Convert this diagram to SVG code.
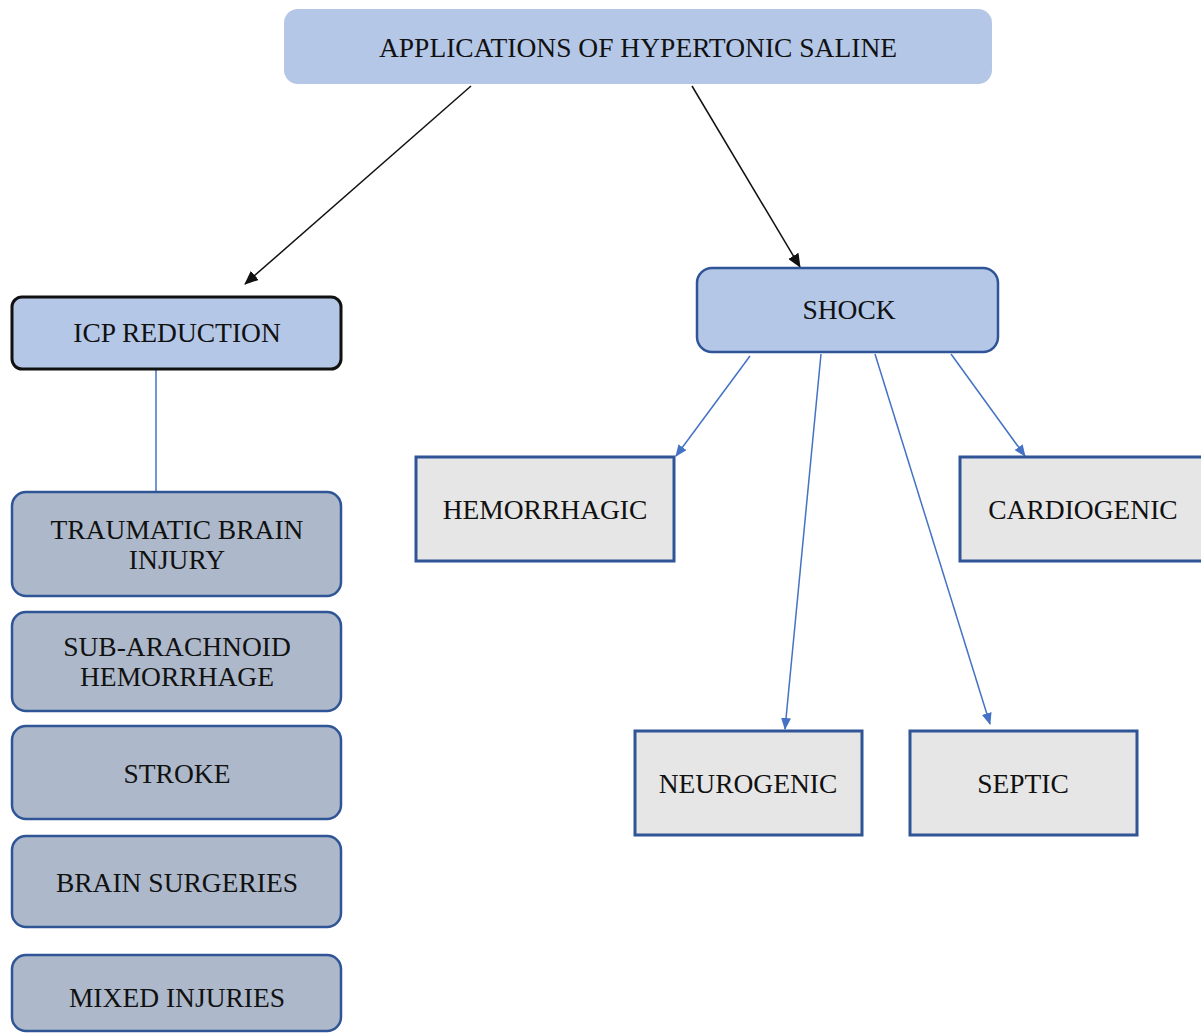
<svg xmlns="http://www.w3.org/2000/svg" width="1201" height="1033" viewBox="0 0 1201 1033">
<style>
text{font-family:"Liberation Serif","Times New Roman",serif;font-size:27.5px;fill:#111;text-anchor:middle;dominant-baseline:central}
.top{fill:#b4c7e7}
.icp{fill:#b4c7e7;stroke:#111;stroke-width:3}
.shock{fill:#b4c7e7;stroke:#2f5597;stroke-width:2.5}
.sub{fill:#adb9ca;stroke:#2f5597;stroke-width:2.5}
.type{fill:#e6e6e6;stroke:#2f5597;stroke-width:3}
.blk{stroke:#111;stroke-width:1.5;fill:none}
.blu{stroke:#4472c4;stroke-width:1.5;fill:none}
</style>
<defs>
<marker id="ab" markerWidth="14" markerHeight="12" refX="13" refY="6" orient="auto" markerUnits="userSpaceOnUse" viewBox="0 0 14 12"><path d="M0,0 L14,6 L0,12 z" fill="#111"/></marker>
<marker id="au" markerWidth="12" markerHeight="10" refX="11" refY="5" orient="auto" markerUnits="userSpaceOnUse" viewBox="0 0 12 10"><path d="M0,0 L12,5 L0,10 z" fill="#4472c4"/></marker>
</defs>
<rect width="1201" height="1033" fill="#fff"/>
<g id="connectors">
<line class="blk" x1="471" y1="86" x2="245" y2="284" marker-end="url(#ab)"/>
<line class="blk" x1="692" y1="86" x2="800" y2="267" marker-end="url(#ab)"/>
<line class="blu" x1="156" y1="370" x2="156" y2="491"/>
<line class="blu" x1="750" y1="356" x2="676" y2="456" marker-end="url(#au)"/>
<line class="blu" x1="821" y1="354" x2="785" y2="729" marker-end="url(#au)"/>
<line class="blu" x1="875" y1="354" x2="990" y2="724" marker-end="url(#au)"/>
<line class="blu" x1="951" y1="354" x2="1025" y2="456" marker-end="url(#au)"/>
</g>
<g id="root"><rect class="top" x="284" y="9" width="708" height="75" rx="14"/><text x="638" y="47">APPLICATIONS OF HYPERTONIC SALINE</text></g>
<g id="icp"><rect class="icp" x="12" y="297" width="329" height="72" rx="10"/><text x="177" y="332">ICP REDUCTION</text></g>
<g id="tbi"><rect class="sub" x="12" y="492" width="329" height="104" rx="14"/><text x="177" y="529">TRAUMATIC BRAIN</text><text x="177" y="559">INJURY</text></g>
<g id="sah"><rect class="sub" x="12" y="612" width="329" height="99" rx="14"/><text x="177" y="646">SUB-ARACHNOID</text><text x="177" y="676">HEMORRHAGE</text></g>
<g id="stroke"><rect class="sub" x="12" y="726" width="329" height="93" rx="14"/><text x="177" y="773">STROKE</text></g>
<g id="surg"><rect class="sub" x="12" y="836" width="329" height="91" rx="14"/><text x="177" y="882">BRAIN SURGERIES</text></g>
<g id="mixed"><rect class="sub" x="12" y="955" width="329" height="76" rx="14"/><text x="177" y="997">MIXED INJURIES</text></g>
<g id="shock"><rect class="shock" x="697" y="268" width="301" height="84" rx="15"/><text x="849" y="309">SHOCK</text></g>
<g id="hem"><rect class="type" x="416" y="457" width="258" height="104"/><text x="545" y="509">HEMORRHAGIC</text></g>
<g id="card"><rect class="type" x="960" y="457" width="250" height="104"/><text x="1083" y="509">CARDIOGENIC</text></g>
<g id="neuro"><rect class="type" x="635" y="731" width="227" height="104"/><text x="748" y="783">NEUROGENIC</text></g>
<g id="septic"><rect class="type" x="910" y="731" width="227" height="104"/><text x="1023" y="783">SEPTIC</text></g>
</svg>
